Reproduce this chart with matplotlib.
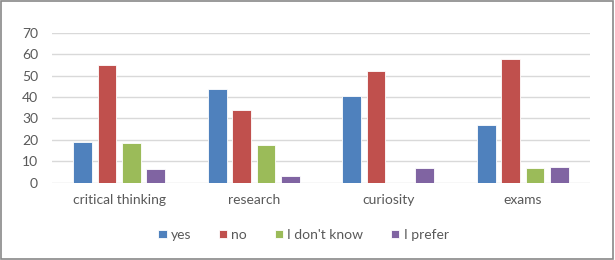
import matplotlib
matplotlib.use('agg')
import numpy as np
import matplotlib.pyplot as plt
from matplotlib.patches import Rectangle

plt.rcParams['font.family'] = ['Lato', 'DejaVu Sans']

categories = ['critical thinking', 'research', 'curiosity', 'exams']
series = ['yes', 'no', "I don't know", 'I prefer']
yes = [19.1, 43.9, 40.5, 27.1]
no = [54.8, 33.9, 52.1, 57.9]
dont_know = [18.7, 17.6, 0, 6.9]
prefer = [6.4, 3.0, 6.9, 7.5]
colors = ['#4F81BD', '#C0504D', '#9BBB59', '#8064A2']

fig = plt.figure(figsize=(6.15, 2.6), dpi=100)
ax = fig.add_axes([52 / 615, 77.3 / 260, 538 / 615, 150 / 260])

x = np.arange(len(categories))
step = 0.182
width = 0.141
for i, (vals, name) in enumerate(zip([yes, no, dont_know, prefer], series)):
    ax.bar(x + (i - 1.5) * step, vals, width, color=colors[i], label=name,
           edgecolor='white', linewidth=0.6, zorder=3)

ax.set_xlim(-0.5, 3.5)
ax.set_ylim(0, 70)
ax.set_yticks(range(0, 71, 10))
ax.set_xticks(x)
ax.set_xticklabels(categories)
ax.tick_params(axis='both', length=0, labelsize=10, colors='#595959')
ax.tick_params(axis='x', pad=8)
ax.tick_params(axis='y', pad=10)
ax.grid(axis='y', color='#D9D9D9', linewidth=1, zorder=0)
for s in ax.spines.values():
    s.set_visible(False)

fig.legend(loc='center', bbox_to_anchor=(303.5 / 615, 1 - 235 / 260), ncol=4,
           frameon=False, fontsize=10, handlelength=0.58, handleheight=0.58,
           handletextpad=0.31, columnspacing=2.0, labelcolor='#595959')

fig.patches.append(Rectangle((0.002, 0.004), 0.995, 0.992, transform=fig.transFigure,
                             fill=False, edgecolor='#898989', linewidth=1.2))

fig.savefig('out.png', dpi=100)
